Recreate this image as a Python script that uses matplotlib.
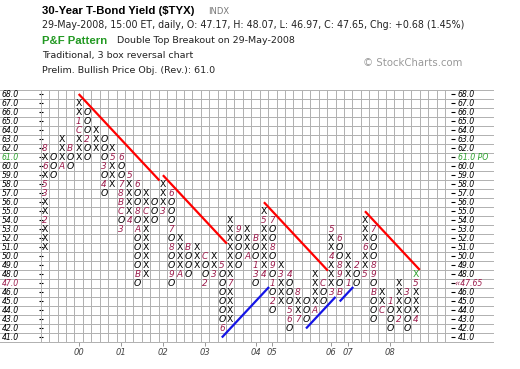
import numpy as np
import matplotlib
matplotlib.use('Agg')
import matplotlib.pyplot as plt
from matplotlib.transforms import blended_transform_factory

plt.rcParams['font.family'] = ['DejaVu Sans']

# P&F columns (box size 1.0, 3 box reversal), first column is X
col_type = ['X', 'O'] * 22 + ['X']
col_low = [51, 59, 60, 60, 61, 61, 62, 57, 58, 53, 54, 47, 48, 54, 55, 47,
           48, 48, 49, 47, 48, 42, 43, 49, 50, 47, 48, 44, 45, 42, 43, 43,
           44, 45, 46, 46, 47, 47, 48, 43, 44, 42, 43, 42, 43]
col_high = [62, 61, 63, 62, 67, 66, 64, 63, 62, 61, 59, 58, 57, 56, 58, 57,
            52, 51, 51, 50, 50, 49, 54, 53, 53, 52, 55, 54, 49, 48, 46, 45,
            48, 47, 53, 52, 50, 49, 54, 53, 46, 45, 47, 46, 48]

# month markers: column, box, month char
mark_col = [0, 0, 0, 0, 0, 2, 3, 4, 4, 5, 7, 7, 8, 9, 9, 9, 9, 9, 9, 10, 10,
            11, 11, 11, 11, 12, 14, 15, 15, 15, 15, 16, 17, 19, 19, 20, 21, 21,
            22, 23, 24, 25, 25, 25, 26, 26, 27, 27, 27, 27, 27, 28, 29, 29, 29,
            30, 30, 32, 33, 34, 34, 34, 35, 35, 35, 35, 36, 37, 38, 38, 39, 39,
            39, 39, 40, 41, 42, 43, 44, 44]
mark_box = [54, 57, 58, 60, 62, 60, 62, 64, 65, 63, 60, 58, 61, 61, 58, 57, 56,
            55, 53, 54, 59, 58, 55, 53, 48, 55, 55, 57, 53, 51, 48, 48, 51, 50,
            47, 48, 49, 42, 47, 53, 50, 52, 49, 48, 48, 54, 54, 51, 49, 47, 45,
            48, 48, 44, 43, 43, 46, 44, 47, 46, 50, 53, 52, 49, 48, 46, 47, 49,
            48, 51, 53, 49, 48, 46, 44, 45, 43, 46, 43, 47]
mark_txt = ['2', '3', '5', '6', '8', 'A', 'B', 'C', '1', '2', '3', '4', '5',
            '6', '7', '8', 'B', 'C', '3', '4', '5', '6', '8', 'A', 'B', 'C',
            '3', '6', '7', '8', '9', 'A', 'B', 'C', '2', '3', '5', '6', '7',
            '9', 'A', 'B', '1', '3', '4', '5', '7', '8', '9', '1', '2', '3',
            '4', '5', '6', '7', '8', 'A', 'C', '3', '4', '5', '6', '8', '9',
            'B', '1', '2', '5', '6', '7', '8', '9', 'B', 'C', '1', '2', '3',
            '4', '5']

year_col = [4, 9, 14, 19, 25, 27, 34, 36, 41]
year_txt = ['00', '01', '02', '03', '04', '05', '06', '07', '08']

price_rows = list(range(41, 69))
n_cols = 49

# trend lines, (start, end) in column / box units
red_x = [(4, 13.6), (14, 21.6), (26, 33.6), (38, 44.5)]
red_y = [(68, 58.4), (59, 51.4), (56, 48.4), (55, 48.5)]
blue_x = [(21, 26.6), (31, 34.5), (35, 36.6)]
blue_y = [(41, 46.6), (42, 45.5), (45, 46.6)]

last_close = 47.65
price_obj = 61.0

W, H = 520, 369
fig = plt.figure(figsize=(W / 100, H / 100), dpi=100)
fig.patch.set_facecolor('white')
ax = fig.add_axes([40.8 / W, 1 - 342 / H, 412.6 / W, 252.5 / H])
for s in ax.spines.values():
    s.set_visible(False)

grid_c = '#b0b0b0'
maroon = '#9c1c4c'
green = '#2ca02c'

# grid
ax.vlines(np.arange(-0.5, n_cols), 40.5, 68.5, color=grid_c, lw=0.7)
fx = blended_transform_factory(fig.transFigure, ax.transData)
for y in np.arange(40.5, 69):
    ax.plot([0, 493 / W], [y, y], transform=fx, color=grid_c, lw=0.7,
            clip_on=False)

# boxes
marks = {(c, b): t for c, b, t in zip(mark_col, mark_box, mark_txt)}
for i, (t, lo, hi) in enumerate(zip(col_type, col_low, col_high)):
    for b in range(lo, hi + 1):
        if (i, b) in marks:
            ax.text(i, b, marks[(i, b)], ha='center', va='center',
                    fontsize=6.4, style='italic', color=maroon)
            continue
        color = 'black'
        if i == len(col_type) - 1 and b == hi:
            color = green
        ax.text(i, b, t, ha='center', va='center', fontsize=6.7,
                style='normal' if t == 'X' else 'italic', color=color)

# trend lines
for xs, ys in zip(red_x, red_y):
    ax.plot(xs, ys, color='#ff0000', lw=1.6, solid_capstyle='butt')
for xs, ys in zip(blue_x, blue_y):
    ax.plot(xs, ys, color='#1414e6', lw=1.6, solid_capstyle='butt')

# price labels on both sides
for p in price_rows:
    lc, rc = 'black', 'black'
    rtxt = f'{p:.1f}'
    if p == int(price_obj):
        lc = rc = green
        rtxt = f'{price_obj:.1f} PO'
    if p == int(last_close):
        lc = rc = maroon
        rtxt = f'\u2039\u2039{last_close:.2f}'
    ax.text(1.5 / W, p, f'{p:.1f}', transform=fx, ha='left', va='center',
            fontsize=5.6, style='italic', color=lc)
    ax.text((458 if p != int(last_close) else 455) / W, p, rtxt, transform=fx,
            ha='left', va='center', fontsize=5.6, style='italic', color=rc)

ax.set_xticks(year_col, year_txt)
ax.set_yticks(price_rows)
ax.tick_params(axis='y', left=True, right=True, labelleft=False,
               direction='inout', length=3.5, width=0.8, color='black')
ax.tick_params(axis='x', length=3, width=0.6, color='#888888', pad=1.2,
               labelsize=6, labelcolor='#444444')
for lab in ax.get_xticklabels():
    lab.set_style('italic')

ax.set_xlim(-0.5, n_cols - 0.5)
ax.set_ylim(40.5, 68.5)


def fpos(x, y):
    return x / W, 1 - y / H


# header
fig.text(*fpos(42, 11.5), '30-Year T-Bond Yield ($TYX)', family='Liberation Sans',
         weight='bold', fontsize=8.2, va='center')
fig.text(*fpos(208, 11.5), 'INDX', fontsize=6, color='#777777', va='center')
fig.text(*fpos(42, 25.5),
         '29-May-2008, 15:00 ET, daily, O: 47.17, H: 48.07, L: 46.97, C: 47.65, '
         'Chg: +0.68 (1.45%)', fontsize=6.85, color='#222222', va='center')
fig.text(*fpos(42, 40.5), 'P&F Pattern', family='Liberation Sans',
         weight='bold', fontsize=8.2, color='#229922', va='center')
fig.text(*fpos(117, 40.5), 'Double Top Breakout on 29-May-2008', fontsize=6.8,
         color='#222222', va='center')
fig.text(*fpos(42, 55.5), 'Traditional, 3 box reversal chart', fontsize=6.8,
         color='#222222', va='center')
fig.text(*fpos(42, 70.5), 'Prelim. Bullish Price Obj. (Rev.): 61.0',
         fontsize=6.8, color='#222222', va='center')
fig.text(*fpos(363, 63.5), '\u00a9 StockCharts.com', fontsize=7.3,
         color='#999999', va='center')

fig.savefig('out.png', dpi=100, facecolor='white')
